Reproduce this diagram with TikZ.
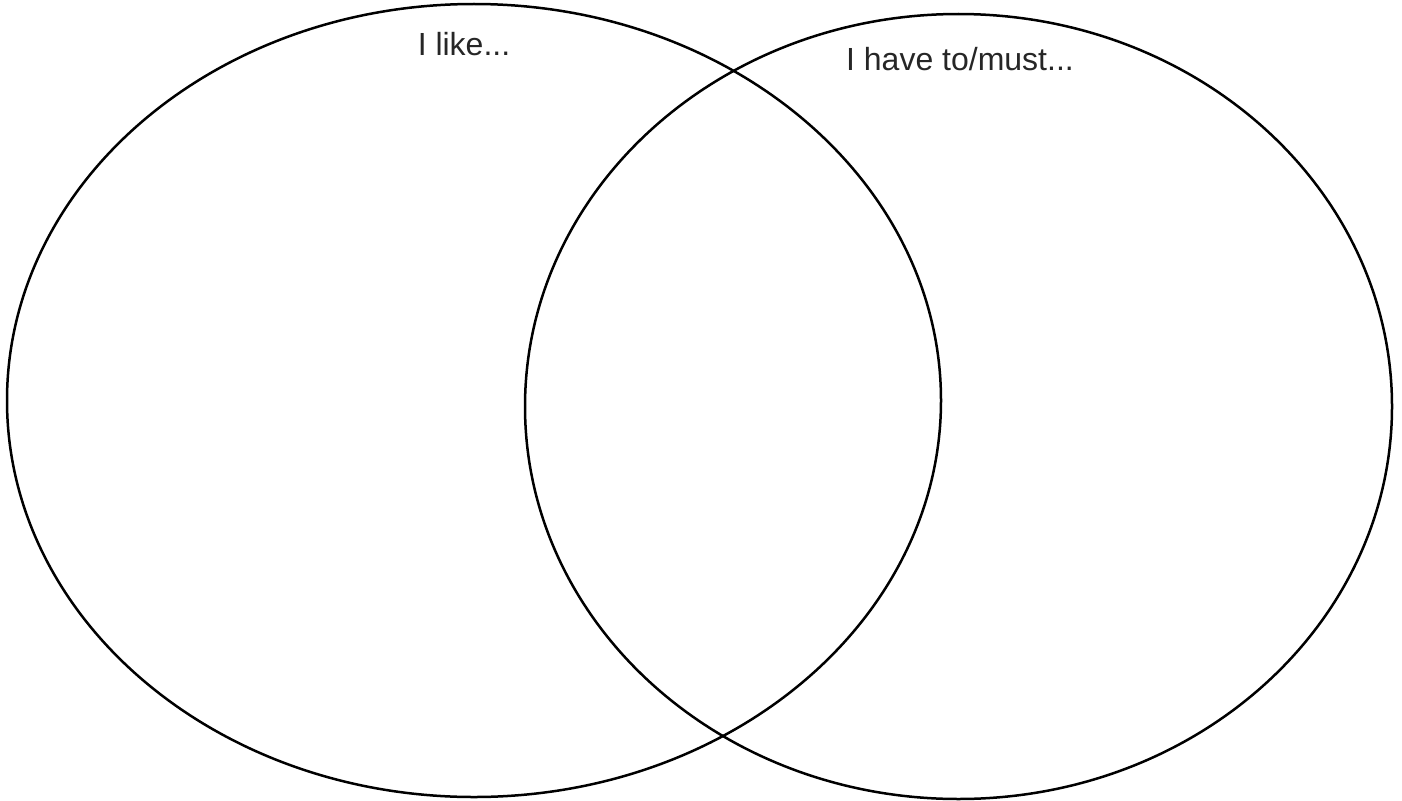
\documentclass[tikz,border=0pt]{standalone}
\usepackage{fontspec}
\setmainfont{Liberation Sans}
\usetikzlibrary{shapes.geometric}
\begin{document}
\begin{tikzpicture}[x=1pt,y=-1pt,
  ring/.style={draw=black,line width=2.5pt,ellipse,inner sep=0pt},
  lbl/.style={font=\fontsize{32}{38}\selectfont,text=black!85,inner sep=0pt}]
\useasboundingbox (0,0) rectangle (1402,800);
\node[ring,minimum width=934pt,minimum height=793pt] (left) at (474,400.5) {};
\node[ring,minimum width=867pt,minimum height=785pt] (right) at (958.5,406.5) {};
\node[lbl] (like) at (464,44) {I like...};
\node[lbl] (must) at (960,59) {I have to/must...};
\end{tikzpicture}
\end{document}
